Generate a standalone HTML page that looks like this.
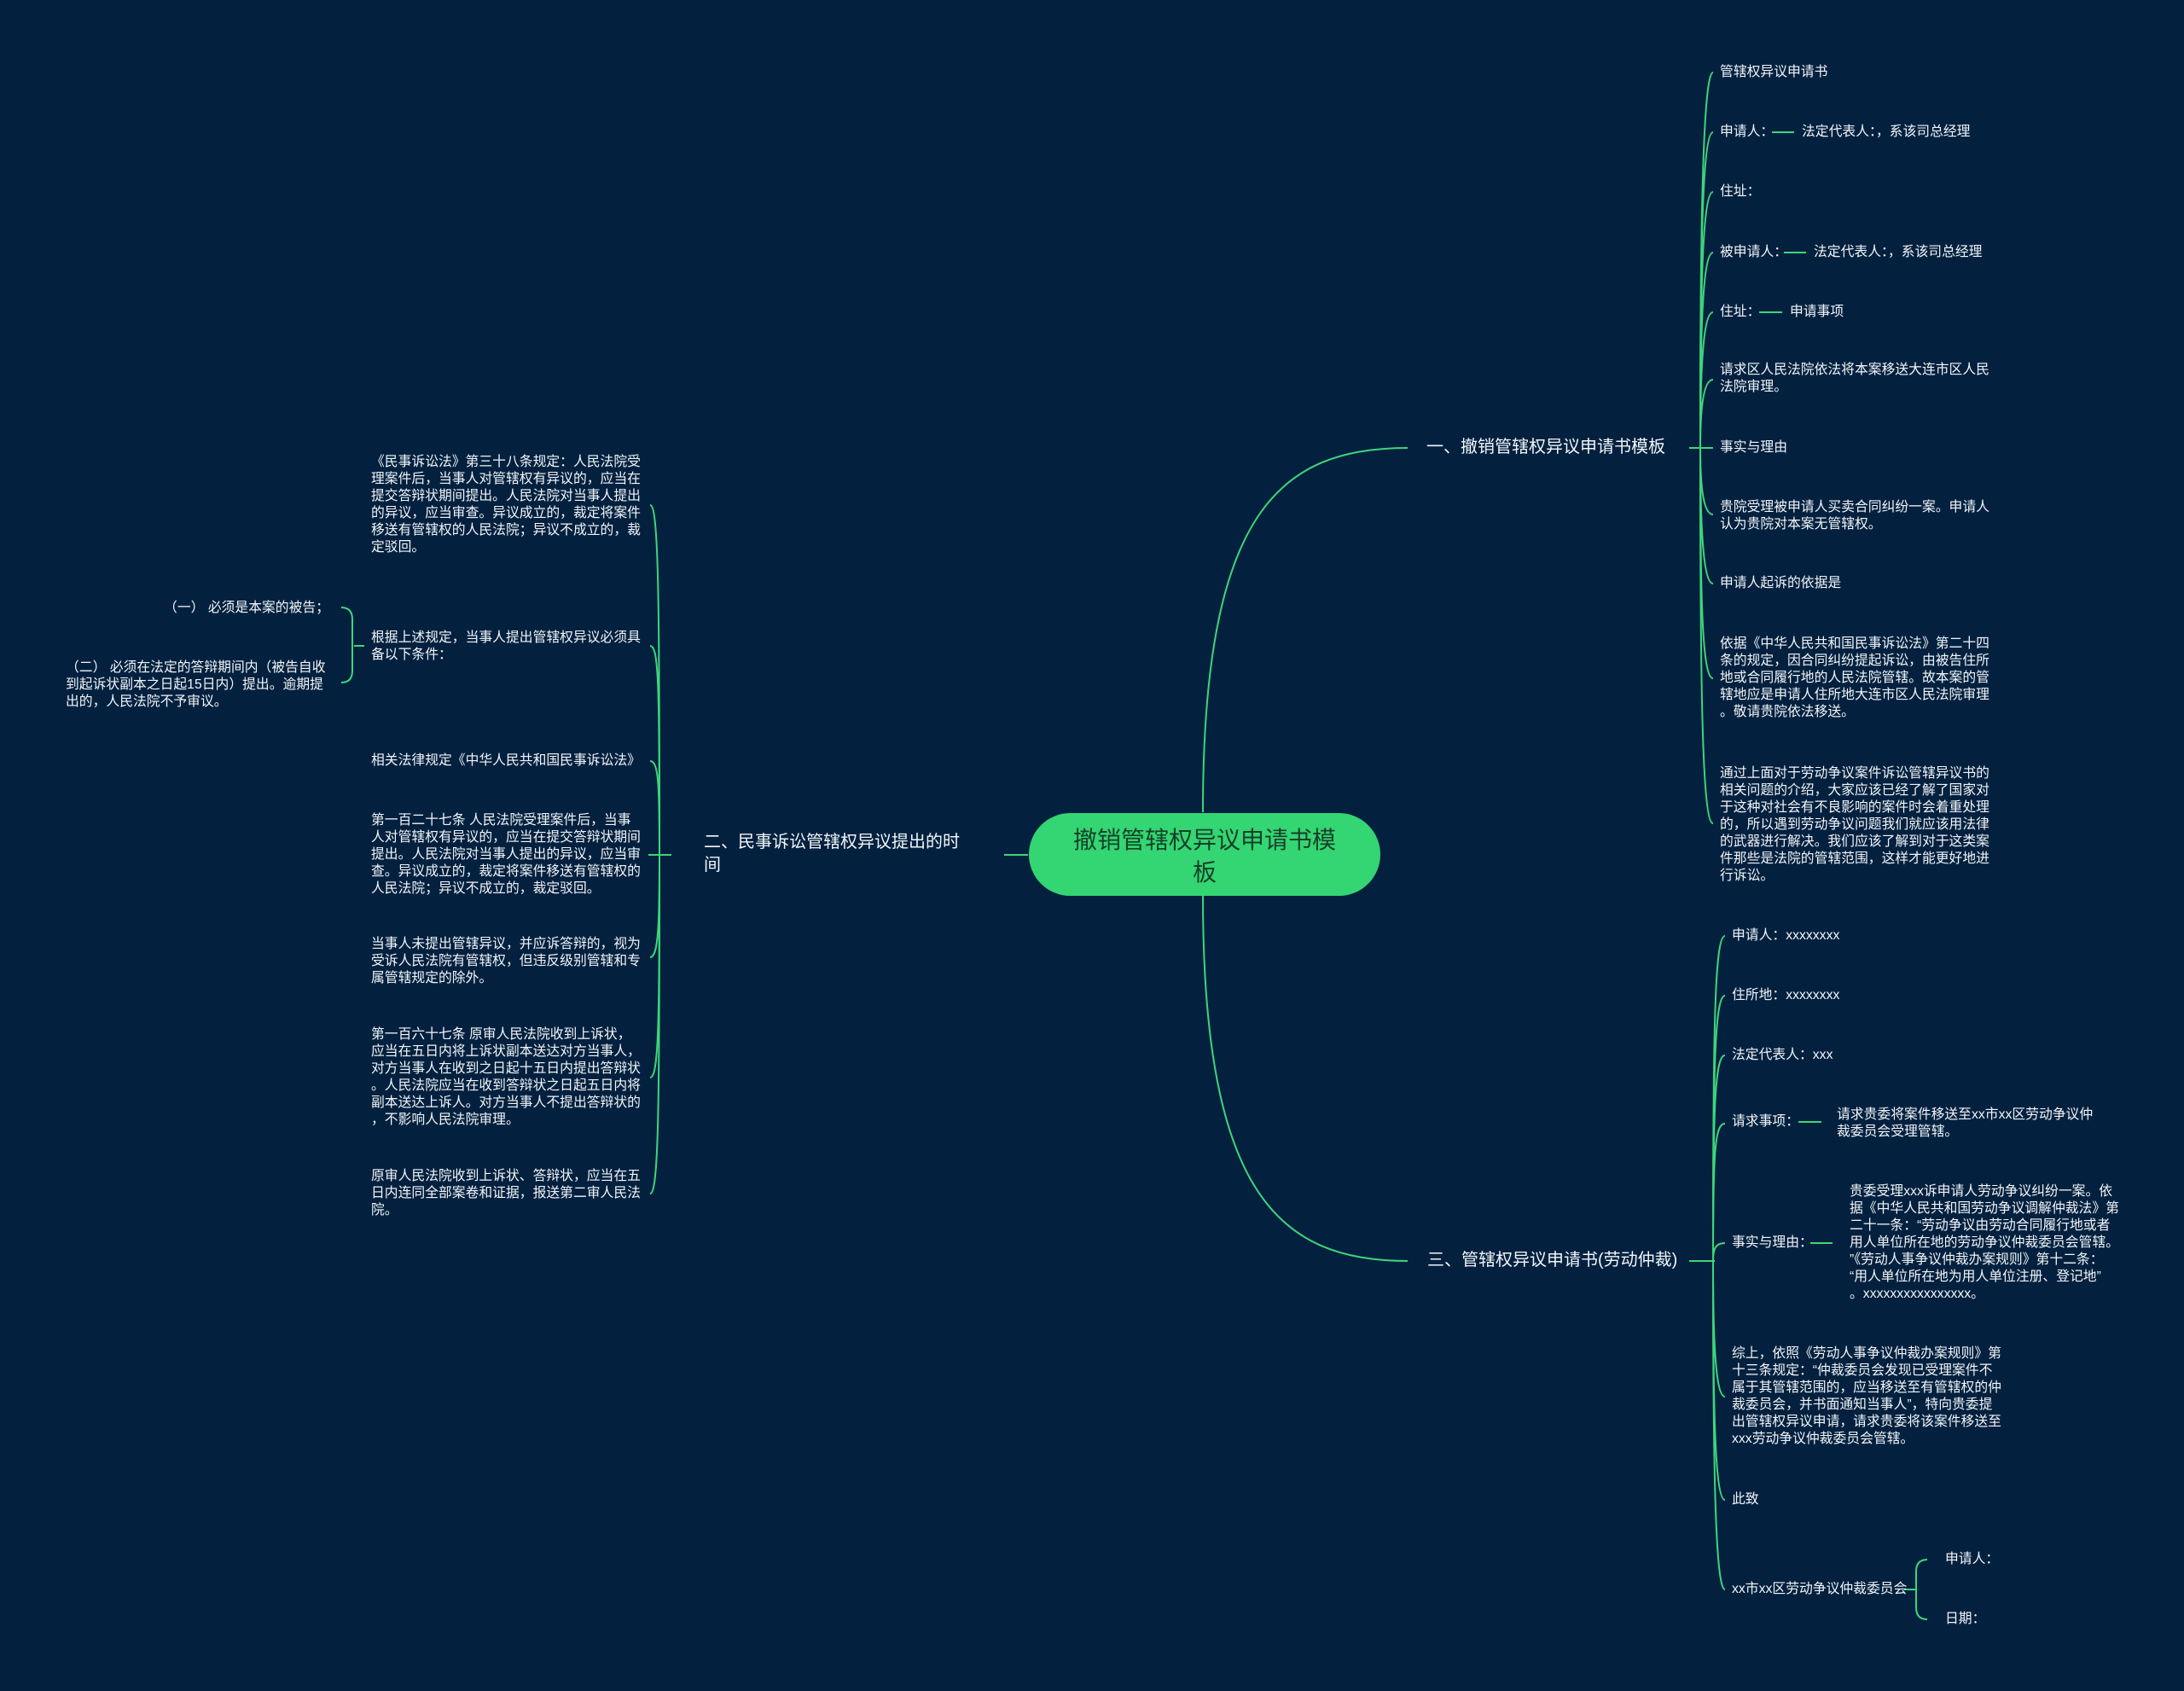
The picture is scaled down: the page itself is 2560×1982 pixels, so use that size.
<!DOCTYPE html>
<html><head><meta charset="utf-8"><style>
html,body{margin:0;padding:0}
body{width:2560px;height:1982px;background:#03213f;position:relative;overflow:hidden;font-family:"Liberation Sans","Noto Sans CJK SC",sans-serif;color:#f2f5f8}
.t{position:absolute;font-size:15.8px;line-height:20px;white-space:nowrap}
.b{position:absolute;font-size:20px;line-height:27px;white-space:nowrap}
svg{position:absolute;left:0;top:0}
</style></head><body>
<svg width="2560" height="1982" fill="none" stroke="#3fd57a" stroke-width="2">
<path d="M1410,952 C1410,600 1500,525 1650,525"/>
<path d="M1410,1050 C1410,1400 1500,1478 1650,1478"/>
<path d="M1205,1002 L1177,1002"/>
<path d="M1980,525 L1995,525"/>
<path d="M1993,525 C1993,300 1995,85 2008,85"/>
<path d="M1993,525 C1993,300 1995,155 2008,155"/>
<path d="M1993,525 C1993,350 1995,225 2008,225"/>
<path d="M1993,525 C1993,400 1995,296 2008,296"/>
<path d="M1993,525 C1993,450 1995,366 2008,366"/>
<path d="M1993,525 C1993,490 1995,445 2008,445"/>
<path d="M1993,525 L2008,525"/>
<path d="M1993,525 C1993,560 1995,603 2008,603"/>
<path d="M1993,525 C1993,600 1995,684 2008,684"/>
<path d="M1993,525 C1993,700 1995,795 2008,795"/>
<path d="M1993,525 C1993,800 1995,965 2008,965"/>
<path d="M2077,155 L2103,155"/>
<path d="M2091,296 L2117,296"/>
<path d="M2062,366 L2089,366"/>
<path d="M1980,1478 L2010,1478"/>
<path d="M2008,1478 C2008,1200 2010,1097 2022,1097"/>
<path d="M2008,1478 C2008,1250 2010,1167 2022,1167"/>
<path d="M2008,1478 C2008,1300 2010,1237 2022,1237"/>
<path d="M2008,1478 C2008,1350 2010,1317 2022,1317"/>
<path d="M2008,1478 C2008,1465 2010,1457 2022,1457"/>
<path d="M2008,1478 C2008,1560 2010,1637 2022,1637"/>
<path d="M2008,1478 C2008,1650 2010,1758 2022,1758"/>
<path d="M2008,1478 C2008,1700 2010,1863 2022,1863"/>
<path d="M2108,1315 L2135,1315"/>
<path d="M2122,1457 L2148,1457"/>
<path d="M2232,1863 L2246,1863"/>
<path d="M2259,1828 Q2246,1828 2246,1842 L2246,1884 Q2246,1898 2259,1898"/>
<path d="M787,1002 L760,1002"/>
<path d="M773,1002 C773,700 772,592 762,592"/>
<path d="M773,1002 C773,800 772,757 762,757"/>
<path d="M773,1002 C773,920 772,892 762,892"/>
<path d="M773,1002 L762,1002"/>
<path d="M773,1002 C773,1080 772,1122 762,1122"/>
<path d="M773,1002 C773,1200 772,1263 762,1263"/>
<path d="M773,1002 C773,1300 772,1399 762,1399"/>
<path d="M427,757 L415,757"/>
<path d="M400,712 Q413,712 413,726 L413,786 Q413,800 400,800"/>
</svg>

<div style="position:absolute;left:1206px;top:953px;width:412px;height:97px;border-radius:49px;background:#33d672"></div>
<div style="position:absolute;left:1206px;top:966px;width:412px;text-align:center;font-size:28px;line-height:38px;color:#17402a">撤销管辖权异议申请书模<br>板</div>

<div class="b" style="left:1672px;top:511px">一、撤销管辖权异议申请书模板</div>
<div class="b" style="left:1673px;top:1464px">三、管辖权异议申请书(劳动仲裁)</div>
<div class="b" style="left:825px;top:974px">二、民事诉讼管辖权异议提出的时<br>间</div>

<div class="t" style="left:2016px;top:75px">管辖权异议申请书</div>
<div class="t" style="left:2016px;top:145px">申请人：</div>
<div class="t" style="left:2112px;top:145px">法定代表人：，系该司总经理</div>
<div class="t" style="left:2016px;top:215px">住址：</div>
<div class="t" style="left:2016px;top:286px">被申请人：</div>
<div class="t" style="left:2126px;top:286px">法定代表人：，系该司总经理</div>
<div class="t" style="left:2016px;top:356px">住址：</div>
<div class="t" style="left:2098px;top:356px">申请事项</div>
<div class="t" style="left:2016px;top:424px">请求区人民法院依法将本案移送大连市区人民<br>法院审理。</div>
<div class="t" style="left:2016px;top:515px">事实与理由</div>
<div class="t" style="left:2016px;top:585px">贵院受理被申请人买卖合同纠纷一案。申请人<br>认为贵院对本案无管辖权。</div>
<div class="t" style="left:2016px;top:674px">申请人起诉的依据是</div>
<div class="t" style="left:2016px;top:745px">依据《中华人民共和国民事诉讼法》第二十四<br>条的规定，因合同纠纷提起诉讼，由被告住所<br>地或合同履行地的人民法院管辖。故本案的管<br>辖地应是申请人住所地大连市区人民法院审理<br>。敬请贵院依法移送。</div>
<div class="t" style="left:2016px;top:897px">通过上面对于劳动争议案件诉讼管辖异议书的<br>相关问题的介绍，大家应该已经了解了国家对<br>于这种对社会有不良影响的案件时会着重处理<br>的，所以遇到劳动争议问题我们就应该用法律<br>的武器进行解决。我们应该了解到对于这类案<br>件那些是法院的管辖范围，这样才能更好地进<br>行诉讼。</div>

<div class="t" style="left:2030px;top:1087px">申请人：xxxxxxxx</div>
<div class="t" style="left:2030px;top:1157px">住所地：xxxxxxxx</div>
<div class="t" style="left:2030px;top:1227px">法定代表人：xxx</div>
<div class="t" style="left:2030px;top:1305px">请求事项：</div>
<div class="t" style="left:2153px;top:1297px">请求贵委将案件移送至xx市xx区劳动争议仲<br>裁委员会受理管辖。</div>
<div class="t" style="left:2030px;top:1447px">事实与理由：</div>
<div class="t" style="left:2168px;top:1387px">贵委受理xxx诉申请人劳动争议纠纷一案。依<br>据《中华人民共和国劳动争议调解仲裁法》第<br>二十一条：“劳动争议由劳动合同履行地或者<br>用人单位所在地的劳动争议仲裁委员会管辖。<br>”《劳动人事争议仲裁办案规则》第十二条：<br>“用人单位所在地为用人单位注册、登记地”<br>。xxxxxxxxxxxxxxxx。</div>
<div class="t" style="left:2030px;top:1577px">综上，依照《劳动人事争议仲裁办案规则》第<br>十三条规定：“仲裁委员会发现已受理案件不<br>属于其管辖范围的，应当移送至有管辖权的仲<br>裁委员会，并书面通知当事人”，特向贵委提<br>出管辖权异议申请，请求贵委将该案件移送至<br>xxx劳动争议仲裁委员会管辖。</div>
<div class="t" style="left:2030px;top:1748px">此致</div>
<div class="t" style="left:2030px;top:1853px">xx市xx区劳动争议仲裁委员会</div>
<div class="t" style="left:2280px;top:1818px">申请人：</div>
<div class="t" style="left:2280px;top:1888px">日期：</div>

<div class="t" style="left:435px;top:532px">《民事诉讼法》第三十八条规定：人民法院受<br>理案件后，当事人对管辖权有异议的，应当在<br>提交答辩状期间提出。人民法院对当事人提出<br>的异议，应当审查。异议成立的，裁定将案件<br>移送有管辖权的人民法院；异议不成立的，裁<br>定驳回。</div>
<div class="t" style="left:435px;top:738px">根据上述规定，当事人提出管辖权异议必须具<br>备以下条件：</div>
<div class="t" style="left:435px;top:882px">相关法律规定《中华人民共和国民事诉讼法》</div>
<div class="t" style="left:435px;top:952px">第一百二十七条 人民法院受理案件后，当事<br>人对管辖权有异议的，应当在提交答辩状期间<br>提出。人民法院对当事人提出的异议，应当审<br>查。异议成立的，裁定将案件移送有管辖权的<br>人民法院；异议不成立的，裁定驳回。</div>
<div class="t" style="left:435px;top:1097px">当事人未提出管辖异议，并应诉答辩的，视为<br>受诉人民法院有管辖权，但违反级别管辖和专<br>属管辖规定的除外。</div>
<div class="t" style="left:435px;top:1203px">第一百六十七条 原审人民法院收到上诉状，<br>应当在五日内将上诉状副本送达对方当事人，<br>对方当事人在收到之日起十五日内提出答辩状<br>。人民法院应当在收到答辩状之日起五日内将<br>副本送达上诉人。对方当事人不提出答辩状的<br>，不影响人民法院审理。</div>
<div class="t" style="left:435px;top:1369px">原审人民法院收到上诉状、答辩状，应当在五<br>日内连同全部案卷和证据，报送第二审人民法<br>院。</div>
<div class="t" style="left:186px;top:703px;width:200px;text-align:right">（一） 必须是本案的被告；</div>
<div class="t" style="left:77px;top:773px">（二） 必须在法定的答辩期间内（被告自收<br>到起诉状副本之日起15日内）提出。逾期提<br>出的，人民法院不予审议。</div>
</body></html>
